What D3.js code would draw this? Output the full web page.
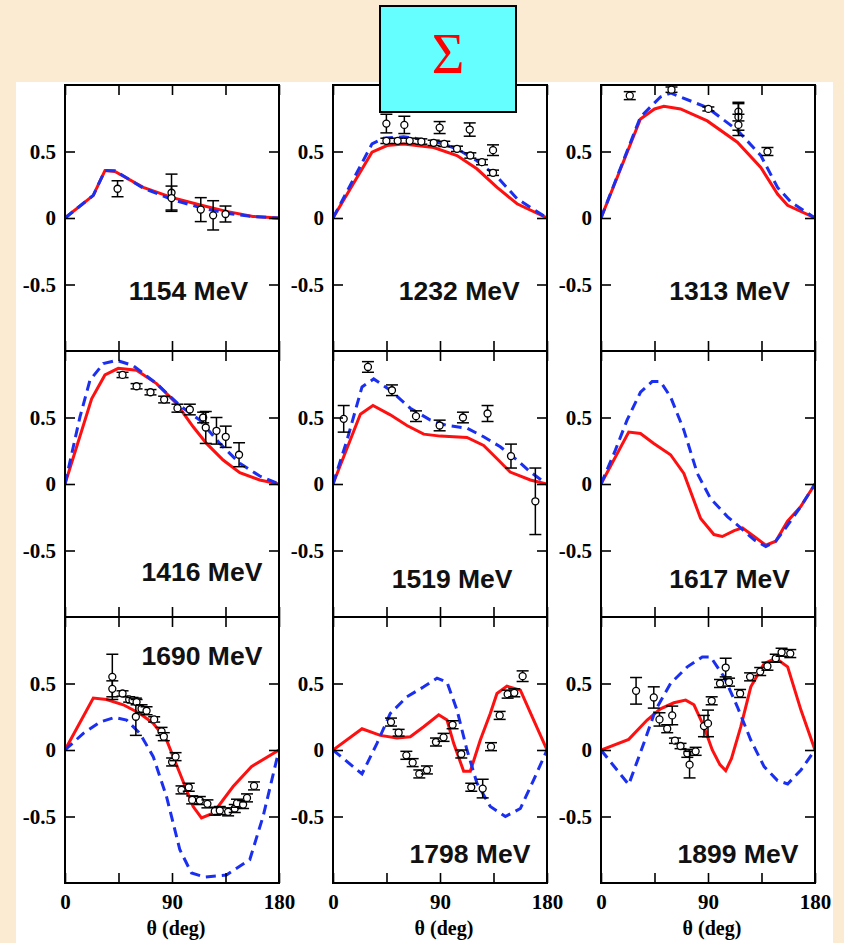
<!DOCTYPE html>
<html>
<head>
<meta charset="utf-8">
<script src="https://cdn.jsdelivr.net/npm/d3@7"></script>
<style>
  body { margin: 0; background: #faebd2; }
  svg { display: block; }
</style>
</head>
<body>
<div id="chart"></div>
<script>
// beam energies, one panel each
var energies = ["1154 MeV", "1232 MeV", "1313 MeV", "1416 MeV", "1519 MeV", "1617 MeV", "1690 MeV", "1798 MeV", "1899 MeV"];

// solid red model curves [theta, sigma]
var redCurves = [
  [[0,0],[23.8,0.17],[33.6,0.357],[42,0.35],[65.8,0.23],[89.6,0.155],[113,0.1],[135.8,0.05],[158,0.012],[180,0]],
  [[0,0],[32.8,0.495],[45.4,0.545],[59.4,0.557],[84.7,0.53],[104.3,0.47],[121,0.37],[138,0.23],[154.8,0.107],[180,0]],
  [[0,0],[33.2,0.745],[45,0.82],[52.9,0.84],[66.9,0.82],[89.4,0.73],[114.7,0.57],[134.4,0.38],[148.5,0.18],[156.9,0.095],[180,0]],
  [[0,0],[22.4,0.64],[33.6,0.82],[44.8,0.87],[60.2,0.855],[77,0.755],[93.8,0.605],[107.8,0.43],[119,0.305],[133,0.18],[147,0.085],[163.8,0.03],[180,0]],
  [[0,0],[23,0.525],[33.6,0.59],[48.2,0.52],[62.2,0.44],[76.3,0.375],[90.3,0.36],[112.7,0.35],[126.7,0.29],[138,0.19],[149,0.09],[166,0.03],[180,0]],
  [[0,0],[23.3,0.39],[33.2,0.38],[44.4,0.305],[58.5,0.22],[69.7,0.08],[83.8,-0.26],[95,-0.38],[102,-0.395],[112,-0.35],[119,-0.33],[128.8,-0.395],[138.6,-0.46],[147,-0.43],[156.9,-0.28],[168,-0.17],[180,0]],
  [[0,0],[23.8,0.39],[35,0.38],[49,0.34],[63,0.275],[74.2,0.2],[85.4,0.075],[96.6,-0.175],[107.8,-0.425],[114.8,-0.51],[124.6,-0.475],[141.4,-0.275],[156.8,-0.125],[180,0]],
  [[0,0],[24.4,0.16],[39.8,0.11],[53.8,0.09],[65,0.1],[76.3,0.175],[88.9,0.265],[95.9,0.225],[101.5,0.05],[109.9,-0.16],[115.5,-0.16],[123.9,0.075],[132.3,0.275],[137.9,0.425],[146.3,0.48],[157.6,0.45],[168.8,0.225],[180,0]],
  [[0,0],[23.3,0.08],[38.8,0.225],[50,0.31],[61.3,0.355],[71.2,0.375],[78.2,0.34],[86.6,0.175],[93.6,0],[100,-0.11],[104.9,-0.155],[109.7,-0.065],[117.6,0.175],[126,0.475],[137.2,0.65],[147,0.69],[157,0.625],[168.2,0.3],[180,0]]
];

// dashed blue model curves [theta, sigma]
var blueCurves = [
  [[0,0],[23.8,0.17],[33.6,0.357],[42,0.355],[65.8,0.225],[89.6,0.14],[113,0.08],[135.8,0.035],[158,0.01],[180,0]],
  [[0,0],[32.8,0.557],[42.6,0.6],[59.4,0.61],[84.7,0.58],[104.3,0.52],[121,0.43],[138,0.31],[154.8,0.145],[180,0]],
  [[0,0],[33.2,0.76],[50,0.91],[58.5,0.94],[89.4,0.83],[114.7,0.66],[134.4,0.47],[148.5,0.23],[159.7,0.12],[180,0]],
  [[0,0],[12.6,0.505],[21,0.78],[32.2,0.905],[43.4,0.93],[57.4,0.89],[77,0.755],[96.6,0.59],[113.4,0.48],[130.2,0.305],[147,0.155],[163.8,0.06],[180,0]],
  [[0,0],[11.8,0.33],[24.4,0.73],[34.2,0.79],[48.2,0.705],[65,0.57],[81.9,0.48],[95.9,0.44],[112.7,0.42],[126.7,0.355],[140.7,0.28],[154.8,0.18],[166,0.09],[180,0]],
  [[0,0],[12.1,0.255],[21.9,0.48],[33.2,0.69],[43,0.77],[50,0.77],[58.5,0.655],[69.7,0.405],[81,0.08],[92.2,-0.11],[106.3,-0.245],[117.5,-0.33],[128.8,-0.42],[138.6,-0.47],[147,-0.43],[157,-0.31],[168,-0.17],[180,0]],
  [[0,0],[15.4,0.125],[29.4,0.21],[42,0.245],[51.8,0.225],[63,0.125],[74.2,-0.05],[85.4,-0.35],[96.6,-0.75],[106.4,-0.925],[117.6,-0.955],[135.8,-0.94],[155.4,-0.825],[166.6,-0.5],[180,0]],
  [[0,0],[24.4,-0.18],[37,0.05],[48.2,0.275],[62.2,0.4],[76.3,0.475],[87.5,0.54],[95.9,0.51],[104.3,0.3],[112.7,0],[121.1,-0.25],[132.3,-0.425],[145,-0.5],[157.6,-0.44],[168.8,-0.225],[180,0]],
  [[0,0],[23.3,-0.26],[36,0.05],[45.8,0.3],[58.5,0.5],[72.6,0.625],[85.2,0.7],[92.2,0.7],[103.5,0.55],[114.7,0.325],[126,0.075],[137.2,-0.125],[148.5,-0.23],[157,-0.255],[168.2,-0.15],[180,0]]
];

// measured points [theta, sigma, error]
var measured = [
  [[44.2,0.22,0.06],[89.6,0.19,0.14],[89.6,0.15,0.09],[114.2,0.063,0.09],[124.6,0.02,0.11],[135,0.03,0.06]],
  [[44.9,0.71,0.07],[60,0.70,0.065],[89.7,0.68,0.045],[115,0.665,0.05],[134.6,0.51,0.04],
   [44.9,0.58,0.02],[54.4,0.58,0.02],[64.5,0.58,0.02],[74.3,0.575,0.02],[84.7,0.565,0.02],[93.6,0.557,0.02],[104.3,0.52,0.02],[115.5,0.47,0.02],[125.3,0.42,0.02],[134.6,0.34,0.02]],
  [[24.2,0.92,0.03],[59.3,0.965,0.02],[90.3,0.82,0.015],[115.6,0.80,0.07],[115.6,0.76,0.1],[115.6,0.70,0.08],[140,0.50,0.03]],
  [[48.4,0.82,0.02],[60.2,0.735,0.02],[71.9,0.69,0.02],[83.4,0.635,0.025],[94.6,0.57,0.03],[105,0.56,0.04],[116.2,0.50,0.04],[118.4,0.425,0.12],[127.4,0.40,0.1],[135.2,0.355,0.08],[146.4,0.22,0.09]],
  [[9,0.49,0.1],[29.4,0.88,0.04],[49.6,0.705,0.04],[69.8,0.51,0.04],[89.7,0.44,0.04],[109.3,0.50,0.04],[130,0.53,0.06],[149.7,0.21,0.09],[170.2,-0.13,0.25]],
  [],
  [[39.8,0.55,0.17],[39.8,0.46,0.06],[48.4,0.425,0.02],[54,0.38,0.02],[56.8,0.375,0.02],[59.6,0.25,0.14],[60.2,0.36,0.02],[64.4,0.31,0.03],[68.6,0.295,0.03],[75,0.23,0.02],[81.2,0.14,0.03],[83.1,0.1,0.03],
   [90.1,-0.09,0.03],[93,-0.05,0.03],[98,-0.3,0.03],[104.1,-0.28,0.03],[107,-0.375,0.03],[113.4,-0.38,0.03],[119.8,-0.405,0.03],[126,-0.46,0.03],[130.2,-0.455,0.03],[137.2,-0.465,0.03],
   [142.8,-0.44,0.03],[144.7,-0.4,0.03],[149.8,-0.41,0.03],[153.1,-0.36,0.03],[159,-0.27,0.03]],
  [[48.8,0.21,0.03],[55.2,0.13,0.025],[61.7,-0.04,0.03],[67,-0.095,0.03],[72.6,-0.18,0.03],[79,-0.15,0.03],[86.6,0.06,0.03],[93,0.095,0.03],[100.6,0.19,0.03],[107.9,-0.03,0.03],
   [116.3,-0.28,0.03],[125.9,-0.29,0.07],[132.9,0.025,0.03],[140.2,0.26,0.03],[146.9,0.42,0.03],[152.5,0.43,0.03],[159.5,0.555,0.04]],
  [[29.5,0.445,0.1],[44.4,0.395,0.08],[49.2,0.23,0.05],[55.7,0.16,0.03],[59.9,0.26,0.07],[62.2,0.07,0.02],[66.9,0.03,0.02],[72.6,-0.025,0.03],[74.5,-0.11,0.1],[79.6,-0.01,0.03],
   [86.6,0.18,0.08],[90,0.2,0.1],[93.1,0.37,0.03],[100.1,0.5,0.03],[104.9,0.62,0.07],[107.7,0.51,0.03],[117,0.425,0.03],[125.4,0.55,0.03],[133.9,0.59,0.03],[140,0.63,0.03],
   [147,0.69,0.03],[151.9,0.735,0.03],[159.2,0.725,0.03]]
];

var yTicks = [-0.5, 0, 0.5];
var xTicks = [0, 45, 90, 135, 180];
var xLabels = [0, 90, 180];

// where the energy label sits inside each panel, in [theta, sigma]
var labelAt = [[154,-0.62],[157,-0.62],[159,-0.62],[166,-0.73],[151,-0.78],[159,-0.78],[166,0.64],[166,-0.85],[166,-0.85]];

var width = 844, height = 943;
var panelW = 214, panelH = 266;
var lefts = [65, 333, 601], tops = [85, 351, 617];

var svg = d3.select("#chart").append("svg")
    .attr("width", width)
    .attr("height", height);

svg.append("rect")
    .attr("x", 16).attr("y", 82)
    .attr("width", 817).attr("height", height - 82)
    .attr("fill", "#ffffff");

var defs = svg.append("defs");

energies.forEach(function(label, i) {
    var col = i % 3, row = Math.floor(i / 3);
    var x0 = lefts[col], y0 = tops[row];

    var x = d3.scaleLinear().domain([0, 180]).range([x0, x0 + panelW]);
    var y = d3.scaleLinear().domain([-1, 1]).range([y0 + panelH, y0]);

    defs.append("clipPath").attr("id", "clip" + i)
        .append("rect")
        .attr("x", x0).attr("y", y0)
        .attr("width", panelW).attr("height", panelH);

    var g = svg.append("g");

    var line = d3.line()
        .x(function(d) { return x(d[0]); })
        .y(function(d) { return y(d[1]); });

    var plot = g.append("g").attr("clip-path", "url(#clip" + i + ")");

    plot.append("path")
        .datum(redCurves[i])
        .attr("d", line)
        .attr("fill", "none")
        .attr("stroke", "#ff1010")
        .attr("stroke-width", 3);

    plot.append("path")
        .datum(blueCurves[i])
        .attr("d", line)
        .attr("fill", "none")
        .attr("stroke", "#1a2ff0")
        .attr("stroke-width", 3)
        .attr("stroke-dasharray", "10,6");

    var pts = plot.selectAll(".pt")
        .data(measured[i])
        .enter().append("g");

    pts.append("line")
        .attr("x1", function(d) { return x(d[0]); })
        .attr("x2", function(d) { return x(d[0]); })
        .attr("y1", function(d) { return y(d[1] - d[2]); })
        .attr("y2", function(d) { return y(d[1] + d[2]); })
        .attr("stroke", "black").attr("stroke-width", 1.5);

    [-1, 1].forEach(function(s) {
        pts.append("line")
            .attr("x1", function(d) { return x(d[0]) - 6; })
            .attr("x2", function(d) { return x(d[0]) + 6; })
            .attr("y1", function(d) { return y(d[1] + s * d[2]); })
            .attr("y2", function(d) { return y(d[1] + s * d[2]); })
            .attr("stroke", "black").attr("stroke-width", 1.5);
    });

    pts.append("circle")
        .attr("cx", function(d) { return x(d[0]); })
        .attr("cy", function(d) { return y(d[1]); })
        .attr("r", 3.5)
        .attr("fill", "white")
        .attr("stroke", "black")
        .attr("stroke-width", 1.3);

    // axes, ticks pointing inward
    g.append("g")
        .attr("transform", "translate(" + x0 + ",0)")
        .call(d3.axisLeft(y).tickValues(yTicks).tickSize(-10).tickPadding(9)
            .tickFormat(function(d) { return d === 0 ? "0" : String(d); }));

    g.append("g")
        .attr("transform", "translate(" + (x0 + panelW) + ",0)")
        .call(d3.axisRight(y).tickValues(yTicks).tickSize(-10).tickFormat(""));

    g.append("g")
        .attr("transform", "translate(0," + y0 + ")")
        .call(d3.axisTop(x).tickValues(xTicks).tickSize(-10).tickFormat(""));

    g.append("g")
        .attr("transform", "translate(0," + (y0 + panelH) + ")")
        .call(d3.axisBottom(x).tickValues(xTicks).tickSize(-10).tickPadding(11)
            .tickFormat(function(d) { return row === 2 && xLabels.indexOf(d) >= 0 ? d : ""; }));

    g.selectAll(".domain").remove();
    g.selectAll(".tick line").attr("stroke", "black").attr("stroke-width", 1.6);
    g.selectAll(".tick text")
        .attr("font-family", "'Liberation Serif', 'Times New Roman', serif")
        .attr("font-weight", "bold")
        .attr("font-size", "21px")
        .attr("fill", "black");

    g.append("rect")
        .attr("x", x0).attr("y", y0)
        .attr("width", panelW).attr("height", panelH)
        .attr("fill", "none")
        .attr("stroke", "black")
        .attr("stroke-width", 2);

    g.append("text")
        .attr("x", x(labelAt[i][0]))
        .attr("y", y(labelAt[i][1]))
        .attr("text-anchor", "end")
        .attr("font-family", "'Liberation Sans', Arial, sans-serif")
        .attr("font-weight", "bold")
        .attr("font-size", "26.5px")
        .attr("fill", "#111")
        .text(label);

    if (row === 2) {
        g.append("text")
            .attr("x", x(90) + 4)
            .attr("y", y0 + panelH + 52)
            .attr("text-anchor", "middle")
            .attr("font-family", "'Liberation Serif', 'Times New Roman', serif")
            .attr("font-weight", "bold")
            .attr("font-size", "20px")
            .text("θ (deg)");
    }
});

// title box
svg.append("rect")
    .attr("x", 380).attr("y", 6)
    .attr("width", 136).attr("height", 106)
    .attr("fill", "#66ffff")
    .attr("stroke", "black")
    .attr("stroke-width", 2);

svg.append("text")
    .attr("x", 448).attr("y", 73)
    .attr("text-anchor", "middle")
    .attr("font-family", "'Liberation Serif', 'Times New Roman', serif")
    .attr("font-size", "56px")
    .attr("fill", "#ff0000")
    .text("Σ");
</script>
</body>
</html>
